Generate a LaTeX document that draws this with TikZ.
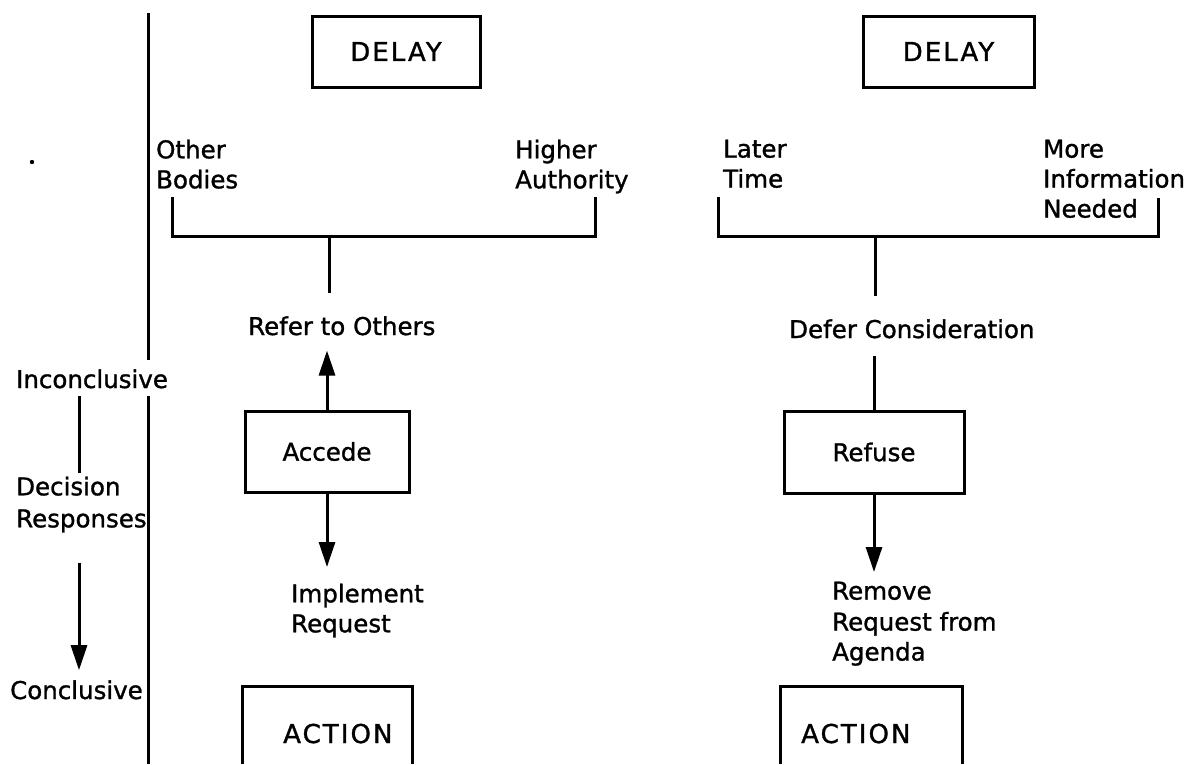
\documentclass[tikz,border=0pt]{standalone}
\usepackage{fontspec}
\setmainfont{DejaVu Sans}[FakeBold=1.2]
\newfontfamily\capsfont{DejaVu Sans}[LetterSpace=8,FakeBold=1.2]
\usetikzlibrary{arrows.meta,calc}
\tikzset{
  stxt/.style={inner sep=0pt, font=\fontsize{24.5}{30}\selectfont},
  txt/.style={inner sep=0pt, font=\fontsize{24.5}{30}\selectfont, align=left},
  capstxt/.style={inner sep=0pt, font=\capsfont\fontsize{26}{30}\selectfont},
  box/.style={draw, line width=3pt, rectangle, inner sep=0pt, font=\fontsize{24.5}{30}\selectfont},
  capsbox/.style={box, font=\capsfont\fontsize{26}{30}\selectfont},
  ln/.style={line width=3pt},
  arr/.style={line width=3pt, -{Triangle[length=25pt,width=16pt]}},
}
\begin{document}
\begin{tikzpicture}[x=1pt,y=-1pt]
\useasboundingbox (0,0) rectangle (1194,764);

% stray dot
\fill (32,162) circle (2.2pt);

% left legend
\node[stxt, anchor=base west] (incon) at (16,388) {Inconclusive};
\node[txt, anchor=north west] (decis) at (16,476.5) {Decision\\[2pt]Responses};
\node[stxt, anchor=base west] (concl) at (10,699) {Conclusive};
\draw[ln] ($(incon.south west)+(63,7)$) -- ($(decis.north west)+(63,-4)$);
\draw[arr] ($(decis.south west)+(63,30)$) -- ($(concl.north west)+(69,-10)$);

% divider
\coordinate (vtop) at (148,13);
\coordinate (vbot) at (148,764);
\draw[ln, shorten >=9pt] (vtop) -- (vtop |- incon.north);
\draw[ln, shorten >=7pt] (vbot) -- (vbot |- incon.south);

% DELAY boxes
\node[capsbox, minimum width=168pt, minimum height=71pt] (delayL) at (396,51.5) {DELAY};
\node[capsbox, minimum width=171pt, minimum height=71pt] (delayR) at (948.5,51.5) {DELAY};

% options
\node[txt, anchor=north west] (other) at (156,139.5) {Other\\Bodies};
\node[txt, anchor=north west] (higher) at (515,139.5) {Higher\\Authority};
\node[txt, anchor=north west] (later) at (723,139.5) {Later\\Time};
\node[txt, anchor=north west] (more) at (1043,139.5) {More\\Information\\Needed};

% brackets
\coordinate (lbA) at (172,197);
\coordinate (lbB) at (595,197);
\coordinate (lbC) at (329,236);
\draw[ln] (lbA) -- (lbA |- lbC) -- (lbB |- lbC) -- (lbB);
\coordinate (rbA) at (718,197);
\coordinate (rbB) at (1158,198);
\coordinate (rbC) at (875,236);
\draw[ln] (rbA) -- (rbA |- rbC) -- (rbB |- rbC) -- (rbB);

% middle labels
\node[stxt, anchor=base west] (refer) at (248,335) {Refer to Others};
\node[stxt, anchor=base west] (defer) at (789,338) {Defer Consideration};
\draw[ln, shorten >=23pt] (lbC) -- (lbC |- refer.north);
\draw[ln, shorten >=23pt] (rbC) -- (rbC |- defer.north);

% decision boxes
\node[box, minimum width=164pt, minimum height=81pt] (accede) at (327,451.5) {Accede};
\node[box, minimum width=180pt, minimum height=82pt] (refuse) at (874,452) {Refuse};

\draw[arr, shorten >=15pt] (accede.north) -- (accede.north |- refer.south);
\draw[ln, shorten <=17pt] (refuse.north |- defer.south) -- (refuse.north);

% outcomes
\node[txt, anchor=north west] (impl) at (291,583.5) {Implement\\Request};
\node[txt, anchor=north west] (remove) at (832,581.5) {Remove\\[1pt]Request from\\Agenda};
\draw[arr, shorten >=16.5pt] (accede.south) -- (accede.south |- impl.north);
\draw[arr, shorten >=9.5pt] (refuse.south) -- (refuse.south |- remove.north);

% ACTION boxes (open at the bottom)
\node[minimum width=169pt, minimum height=77pt, inner sep=0pt] (actL) at (327.5,725.5) {};
\node[minimum width=181pt, minimum height=77pt, inner sep=0pt] (actR) at (871.5,725.5) {};
\draw[ln] (actL.south west) -- (actL.north west) -- (actL.north east) -- (actL.south east);
\draw[ln] (actR.south west) -- (actR.north west) -- (actR.north east) -- (actR.south east);
\node[capstxt, anchor=base west] (actLt) at (283,743) {ACTION};
\node[capstxt, anchor=base west] (actRt) at (801,743) {ACTION};
\end{tikzpicture}
\end{document}
